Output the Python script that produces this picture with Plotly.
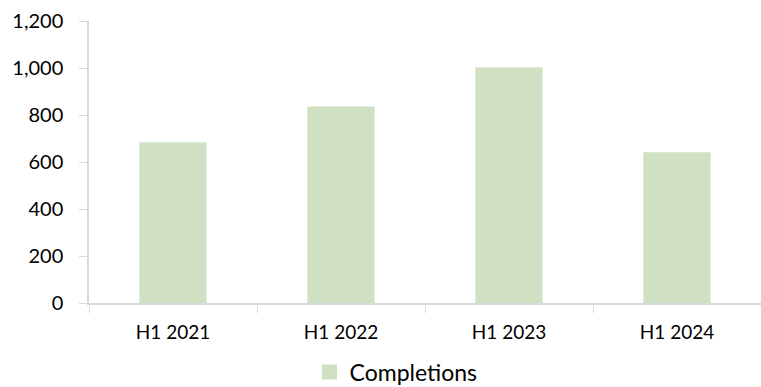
import plotly.graph_objects as go

categories = ["H1 2021", "H1 2022", "H1 2023", "H1 2024"]
completions = [684, 836, 1003, 641]
y_ticks = [0, 200, 400, 600, 800, 1000, 1200]
bar_color = "#cfe0c3"

fig = go.Figure()
fig.add_trace(go.Bar(
    x=categories, y=completions, name="Completions",
    marker=dict(color=bar_color, line=dict(width=0)),
    width=0.4, showlegend=False,
))
# legend entry with a larger square swatch
fig.add_trace(go.Scatter(
    x=[None], y=[None], mode="markers", name="Completions",
    marker=dict(symbol="square", size=15, color=bar_color),
    showlegend=True,
))

fig.update_layout(
    width=761, height=387,
    margin=dict(l=89, r=0, t=21, b=84, autoexpand=False),
    paper_bgcolor="white", plot_bgcolor="white",
    font=dict(family="Lato", size=19, color="#000000"),
    showlegend=True,
    legend=dict(orientation="h", x=0.457, xanchor="center",
                y=-0.245, yanchor="middle", font=dict(size=23), itemwidth=30),
)
fig.update_xaxes(
    type="category", showline=True, linecolor="#d9d9d9", linewidth=1.5,
    ticks="outside", tickson="boundaries", ticklen=8, tickcolor="#d9d9d9",
    tickfont=dict(size=19), ticklabelstandoff=11, tickangle=0, showgrid=False,
)
fig.update_yaxes(
    range=[0, 1200], tickvals=y_ticks, tickformat=",d",
    showline=True, linecolor="#d9d9d9", linewidth=1.5,
    ticks="outside", ticklen=8, tickcolor="#d9d9d9",
    tickfont=dict(size=20), ticklabelstandoff=12,
    showgrid=False, zeroline=False,
)

fig.write_html("out.html")
